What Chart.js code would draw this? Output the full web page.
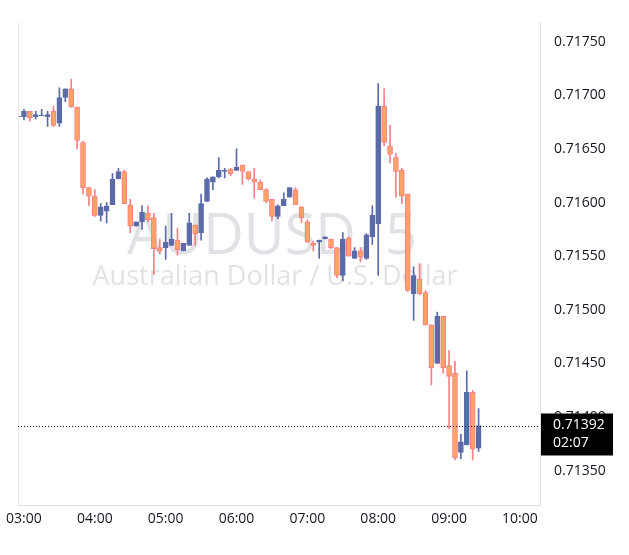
<!DOCTYPE html>
<html>
<head>
<meta charset="utf-8">
<script src="https://cdn.jsdelivr.net/npm/chart.js@4/dist/chart.umd.min.js"></script>
<style>
  body { margin: 0; background: #fff; }
  #wrap { width: 629px; height: 555px; }
</style>
</head>
<body>
<div id="wrap"><canvas id="myChart"></canvas></div>
<script>
// 5-minute candles, first one at 02:55
const startMinute = 175;
const opens  = [.71680,.71680,.71685,.71680,.71681,.71680,.71685,.71674,.71698,.71706,.71689,.71656,.71614,.71606,.71588,.71592,.71598,.71622,.71629,.71598,
                .71578,.71582,.71590,.71586,.71558,.71558,.71560,.71565,.71555,.71560,.71579,.71572,.71601,.71619,.71624,.71629,.71631,.71630,.71635,.71629,
                .71622,.71619,.71612,.71603,.71587,.71597,.71605,.71612,.71596,.71582,.71562,.71563,.71566,.71566,.71558,.71532,.71567,.71548,.71555,.71548,
                .71568,.71580,.71690,.71653,.71642,.71630,.71608,.71515,.71529,.71516,.71486,.71450,.71494,.71448,.71441,.71367,.71374,.71423,.71371];
const closes = [.71680,.71685,.71679,.71682,.71681,.71682,.71672,.71698,.71706,.71689,.71658,.71614,.71606,.71588,.71596,.71597,.71622,.71629,.71599,.71578,
                .71582,.71591,.71584,.71557,.71555,.71563,.71566,.71556,.71562,.71581,.71571,.71599,.71622,.71624,.71630,.71630,.71627,.71633,.71629,.71622,
                .71619,.71612,.71601,.71587,.71597,.71603,.71614,.71598,.71586,.71563,.71560,.71565,.71568,.71558,.71532,.71566,.71550,.71555,.71549,.71570,
                .71588,.71690,.71656,.71645,.71629,.71606,.71518,.71532,.71515,.71486,.71446,.71494,.71446,.71438,.71362,.71377,.71423,.71370,.71392];
const highs  = [.71682,.71687,.71685,.71685,.71687,.71685,.71690,.71707,.71706,.71715,.71689,.71657,.71614,.71612,.71599,.71600,.71627,.71632,.71630,.71603,
                .71582,.71597,.71597,.71590,.71566,.71578,.71590,.71576,.71562,.71590,.71579,.71608,.71623,.71624,.71642,.71632,.71632,.71650,.71635,.71629,
                .71632,.71621,.71613,.71603,.71598,.71609,.71614,.71614,.71596,.71584,.71564,.71565,.71568,.71566,.71558,.71572,.71568,.71558,.71558,.71571,
                .71597,.71711,.71706,.71672,.71646,.71632,.71608,.71540,.71543,.71518,.71486,.71498,.71494,.71462,.71452,.71384,.71443,.71425,.71408];
const lows   = [.71679,.71677,.71676,.71678,.71681,.71671,.71671,.71671,.71694,.71689,.71650,.71608,.71597,.71587,.71583,.71581,.71598,.71622,.71599,.71572,
                .71578,.71575,.71582,.71533,.71552,.71547,.71560,.71551,.71555,.71560,.71560,.71565,.71601,.71612,.71623,.71623,.71625,.71630,.71617,.71621,
                .71604,.71612,.71600,.71583,.71585,.71597,.71605,.71598,.71581,.71563,.71555,.71548,.71566,.71557,.71530,.71527,.71550,.71548,.71545,.71547,
                .71561,.71532,.71653,.71637,.71605,.71599,.71517,.71490,.71514,.71486,.71430,.71450,.71441,.71389,.71360,.71361,.71374,.71360,.71368];
const priceTicks = [0.71350, 0.71400, 0.71450, 0.71500, 0.71550, 0.71600, 0.71650, 0.71700, 0.71750];
const lastPrice = 0.71392;
const countdown = '02:07';

const upColor = '#5b6ba8';
const downFill = '#ffa364';
const downBorder = '#fb7f86';

const times = opens.map((o, i) => startMinute + i * 5);
const isUp = i => closes[i] >= opens[i];
const bodies = times.map((t, i) => ({x: t, y: [opens[i], closes[i] === opens[i] ? closes[i] + 0.000005 : closes[i]]}));
const wicks = times.map((t, i) => ({x: t, y: [lows[i], highs[i]]}));

const pad = n => String(n).padStart(2, '0');

const overlay = {
  id: 'overlay',
  beforeDatasetsDraw(chart) {
    const {ctx} = chart;
    ctx.save();
    ctx.textAlign = 'center';
    ctx.fillStyle = 'rgba(200,202,208,0.55)';
    ctx.font = '56px "Open Sans", sans-serif';
    ctx.fillText('AUDUSD, 5', 272, 254);
    ctx.font = '27px "Open Sans", sans-serif';
    ctx.fillText('Australian Dollar / U.S. Dollar', 275, 285);
    ctx.restore();
  },
  afterDraw(chart) {
    const {ctx, chartArea: a, scales: {y}} = chart;
    ctx.save();
    ctx.strokeStyle = '#e6e6e6';
    ctx.beginPath();
    ctx.moveTo(a.left + 0.5, a.top); ctx.lineTo(a.left + 0.5, a.bottom);
    ctx.stroke();
    const py = Math.round(y.getPixelForValue(lastPrice)) + 0.5;
    ctx.strokeStyle = '#000';
    ctx.setLineDash([1, 2]);
    ctx.beginPath();
    ctx.moveTo(a.left, py); ctx.lineTo(a.right, py);
    ctx.stroke();
    ctx.setLineDash([]);
    ctx.fillStyle = '#000';
    ctx.fillRect(a.right + 1, py - 13, 72, 42);
    ctx.fillStyle = '#fff';
    ctx.font = '14px "Open Sans", sans-serif';
    ctx.textAlign = 'left';
    ctx.textBaseline = 'middle';
    ctx.fillText(lastPrice.toFixed(5), a.right + 13, py - 1);
    ctx.fillText(countdown, a.right + 13, py + 17);
    ctx.restore();
  }
};

new Chart(document.getElementById('myChart').getContext('2d'), {
  type: 'bar',
  data: {
    datasets: [
      {
        data: wicks,
        barThickness: 1,
        backgroundColor: ctx => isUp(ctx.dataIndex) ? upColor : downBorder,
        grouped: false,
        order: 2
      },
      {
        data: bodies,
        barThickness: 5,
        borderWidth: 1,
        borderSkipped: false,
        backgroundColor: ctx => isUp(ctx.dataIndex) ? upColor : downFill,
        borderColor: ctx => isUp(ctx.dataIndex) ? upColor : downBorder,
        grouped: false,
        order: 1
      }
    ]
  },
  options: {
    responsive: true,
    maintainAspectRatio: false,
    animation: false,
    layout: {padding: {left: 10, top: -10, right: 0, bottom: 0}},
    plugins: {legend: {display: false}, tooltip: {enabled: false}},
    scales: {
      x: {
        type: 'linear',
        offset: false,
        min: 175,
        max: 617,
        afterBuildTicks: s => { s.ticks = [180, 240, 300, 360, 420, 480, 540, 600].map(v => ({value: v})); },
        ticks: {
          callback: v => pad(Math.floor(v / 60)) + ':00',
          color: '#131722',
          font: {family: '"Open Sans", sans-serif', size: 14},
          maxRotation: 0,
          autoSkip: false,
          padding: 6
        },
        grid: {display: false, drawTicks: false},
        border: {color: '#e0e0e0'},
        afterFit: s => { s.height = 50; }
      },
      y: {
        position: 'right',
        min: 0.71318,
        max: 0.71768,
        afterBuildTicks: s => { s.ticks = priceTicks.map(v => ({value: v})); },
        ticks: {
          callback: v => v.toFixed(5),
          color: '#131722',
          font: {family: '"Open Sans", sans-serif', size: 14},
          padding: 14
        },
        grid: {display: false, drawTicks: false},
        border: {color: '#e0e0e0'},
        afterFit: s => { s.width = 89; }
      }
    }
  },
  plugins: [overlay]
});
</script>
</body>
</html>
